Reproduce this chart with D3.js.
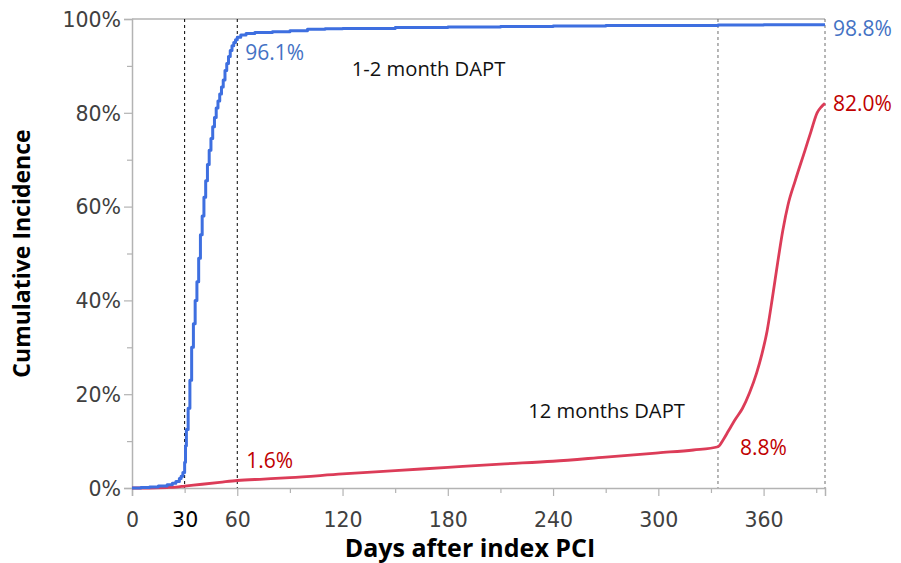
<!DOCTYPE html>
<html>
<head>
<meta charset="utf-8">
<script src="https://cdn.jsdelivr.net/npm/d3@7"></script>
<style>
  html, body { margin: 0; padding: 0; background: #fff; }
  svg { display: block; }
</style>
</head>
<body>
<svg id="chart" width="901" height="563"></svg>
<script>
// Cumulative incidence of DAPT discontinuation, by strategy
const blueDays = [0, 5, 10, 15, 20, 23, 25, 27, 28, 29, 30, 30.5, 31, 32, 33, 34, 35, 36, 37, 38, 39, 40,
  41, 42, 43, 44, 45, 46, 47, 48, 49, 50, 51, 52, 53, 54, 55, 56, 57, 58, 59, 60,
  62, 65, 70, 80, 90, 100, 110, 120, 150, 180, 210, 240, 270, 300, 334, 360, 395];
const bluePct = [0, 0.1, 0.2, 0.4, 0.7, 1.0, 1.4, 2.0, 2.5, 3.3, 5.5, 9, 12.5, 17, 23, 30, 35, 40, 44, 49, 54, 58,
  62, 65.5, 69, 72, 74.5, 77, 79, 81, 82.5, 84, 85.5, 87, 89, 90.5, 92, 93.3, 94.3, 95.0, 95.6, 96.1,
  96.6, 96.9, 97.1, 97.3, 97.5, 97.8, 97.9, 98.0, 98.2, 98.3, 98.4, 98.5, 98.6, 98.6, 98.7, 98.8, 98.8];

const redDays = [0, 10, 20, 25, 30, 40, 50, 60, 75, 90, 120, 150, 180, 210, 240, 270, 300, 320, 334,
  337, 340, 344, 348, 352, 356, 359, 362, 365, 368, 371, 374, 378, 383.6, 387, 390.5, 393, 395];
const redPct = [0, 0, 0.1, 0.2, 0.4, 0.8, 1.2, 1.6, 1.9, 2.2, 3.0, 3.7, 4.4, 5.1, 5.7, 6.6, 7.5, 8.1, 8.8,
  10.3, 12.2, 14.7, 17, 20.3, 24.5, 28.5, 33.5, 40.5, 48, 55, 60.5, 65.5, 72, 76, 80, 81.3, 82.0];

const xMajorTicks = [0, 30, 60, 120, 180, 240, 300, 360];
const xMinorTicks = [90, 150, 210, 270, 330, 390];
const yMajorTicks = [0, 20, 40, 60, 80, 100];
const yMinorTicks = [10, 30, 50, 70, 90];
const markerDays = [30, 60, 334, 395];

const seriesLabels = [
  { text: "96.1%", day: 60, pct: 96.1, dx: 8, dy: 15, color: "#4472c4" },
  { text: "98.8%", day: 395, pct: 98.8, dx: 8, dy: 4, color: "#4472c4" },
  { text: "82.0%", day: 395, pct: 82.0, dx: 8, dy: 0, color: "#c00000" },
  { text: "8.8%", day: 334, pct: 8.8, dx: 22, dy: 1, color: "#c00000" },
  { text: "1.6%", day: 60, pct: 1.6, dx: 9, dy: -20, color: "#c00000" }
];
const groupLabels = [
  { text: "1-2 month DAPT", day: 169, pct: 89.3 },
  { text: "12 months DAPT", day: 270.5, pct: 16.4 }
];

const svg = d3.select("#chart");
const plotLeft = 132, plotRight = 825, plotTop = 19, plotBottom = 488;

const x = d3.scaleLinear().domain([0, 395]).range([plotLeft, plotRight]);
const y = d3.scaleLinear().domain([0, 100]).range([plotBottom, plotTop]);

const axisColor = "#b3b3b3";
const tickFont = "'DejaVu Sans', Verdana, sans-serif";
const tickColor = "#404040";

// Frame: top border
svg.append("line").attr("x1", plotLeft).attr("x2", plotRight).attr("y1", plotTop).attr("y2", plotTop)
  .attr("stroke", axisColor).attr("stroke-width", 1.5);

// Dashed reference lines
svg.append("g").selectAll("line").data(markerDays).join("line")
  .attr("x1", d => x(d)).attr("x2", d => x(d))
  .attr("y1", plotTop).attr("y2", plotBottom)
  .attr("stroke", d => d <= 60 ? "#000" : "#6e6e6e")
  .attr("stroke-width", 1)
  .attr("stroke-dasharray", "3,3");

// Y axis
const yAxis = svg.append("g").attr("transform", `translate(${plotLeft},0)`)
  .call(d3.axisLeft(y).tickValues(yMajorTicks).tickSize(8).tickPadding(3).tickFormat(d => d + "%"));
svg.append("g").attr("transform", `translate(${plotLeft},0)`)
  .call(d3.axisLeft(y).tickValues(yMinorTicks).tickSize(5).tickFormat(""))
  .call(g => g.select(".domain").remove());

// X axis
const xAxis = svg.append("g").attr("transform", `translate(0,${plotBottom})`)
  .call(d3.axisBottom(x).tickValues(xMajorTicks).tickSize(8).tickPadding(16).tickFormat(d3.format("d")));
svg.append("g").attr("transform", `translate(0,${plotBottom})`)
  .call(d3.axisBottom(x).tickValues(xMinorTicks).tickSize(5).tickFormat(""))
  .call(g => g.select(".domain").remove());

svg.selectAll(".domain").attr("stroke", axisColor).attr("stroke-width", 1.5);
svg.selectAll(".tick line").attr("stroke", axisColor).attr("stroke-width", 1.2);
svg.selectAll(".tick text")
  .attr("font-family", tickFont).attr("font-size", 20.5).attr("fill", tickColor);
xAxis.selectAll(".tick").filter(d => d === 30).select("line").attr("y2", 5);
xAxis.selectAll(".tick").filter(d => d === 30).select("text").attr("fill", "#000");
yAxis.selectAll(".tick text").attr("dy", "0.36em");

// Curves
const blueData = blueDays.map((d, i) => [d, bluePct[i]]);
const redData = redDays.map((d, i) => [d, redPct[i]]);

svg.append("path").datum(redData)
  .attr("fill", "none").attr("stroke", "#dc3c58").attr("stroke-width", 2.8)
  .attr("stroke-linejoin", "round")
  .attr("d", d3.line().x(d => x(d[0])).y(d => y(d[1])).curve(d3.curveMonotoneX));

svg.append("path").datum(blueData)
  .attr("fill", "none").attr("stroke", "#3e6fe0").attr("stroke-width", 3)
  .attr("stroke-linejoin", "round")
  .attr("d", d3.line().x(d => x(d[0])).y(d => y(d[1])).curve(d3.curveStepAfter));

// Value labels
const labelFont = "'Open Sans', 'Noto Sans', sans-serif";
svg.append("g").selectAll("text").data(seriesLabels).join("text")
  .attr("x", d => x(d.day) + d.dx)
  .attr("y", d => y(d.pct) + d.dy)
  .attr("dy", "0.35em")
  .attr("font-family", labelFont).attr("font-size", 21)
  .attr("fill", d => d.color)
  .text(d => d.text);

svg.append("g").selectAll("text").data(groupLabels).join("text")
  .attr("x", d => x(d.day)).attr("y", d => y(d.pct))
  .attr("dy", "0.35em").attr("text-anchor", "middle")
  .attr("font-family", labelFont).attr("font-size", 20.2)
  .attr("fill", "#111")
  .text(d => d.text);

// Axis titles
svg.append("text")
  .attr("transform", `translate(22,${(plotTop + plotBottom) / 2}) rotate(-90)`)
  .attr("text-anchor", "middle").attr("dy", "0.35em")
  .attr("font-family", labelFont).attr("font-weight", "bold").attr("font-size", 23)
  .attr("fill", "#000")
  .text("Cumulative Incidence");

svg.append("text")
  .attr("x", 470).attr("y", 548).attr("dy", "0.35em")
  .attr("text-anchor", "middle")
  .attr("font-family", labelFont).attr("font-weight", "bold").attr("font-size", 25)
  .attr("fill", "#000")
  .text("Days after index PCI");
</script>
</body>
</html>
